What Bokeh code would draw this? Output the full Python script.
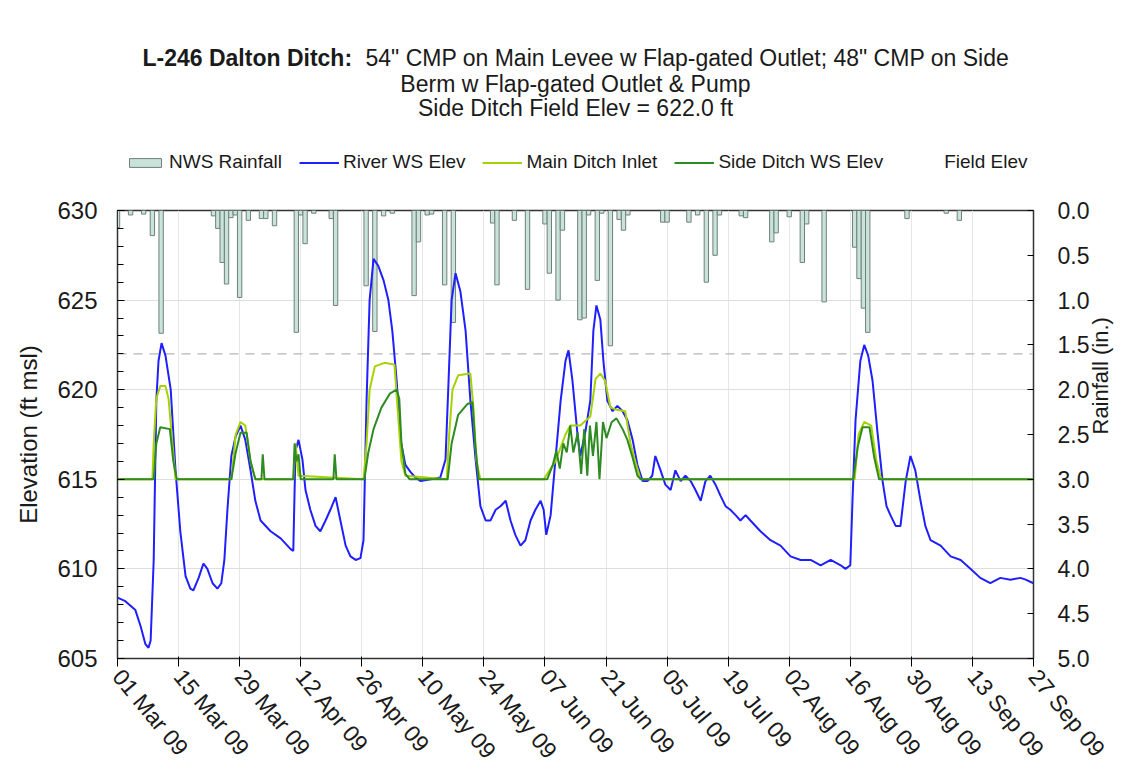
import math
import pandas as pd
from bokeh.plotting import figure
from bokeh.layouts import column
from bokeh.models import (Range1d, LinearAxis, FixedTicker, SingleIntervalTicker,
                          PrintfTickFormatter, Legend, LegendItem, Label)
from bokeh.embed import file_html
from bokeh.resources import INLINE

START = pd.Timestamp("2009-03-01")
END = pd.Timestamp("2009-09-27")

title_bold = "L-246 Dalton Ditch:"
title_rest = "54\" CMP on Main Levee w Flap-gated Outlet; 48\" CMP on Side"
title_line2 = "Berm w Flap-gated Outlet & Pump"
title_line3 = "Side Ditch Field Elev = 622.0 ft"

series_names = ["NWS Rainfall", "River WS Elev", "Main Ditch Inlet",
                "Side Ditch WS Elev", "Field Elev"]

tick_dates = ["2009-03-01", "2009-03-15", "2009-03-29", "2009-04-12", "2009-04-26",
              "2009-05-10", "2009-05-24", "2009-06-07", "2009-06-21", "2009-07-05",
              "2009-07-19", "2009-08-02", "2009-08-16", "2009-08-30", "2009-09-13",
              "2009-09-27"]
tick_labels = ["01 Mar 09", "15 Mar 09", "29 Mar 09", "12 Apr 09", "26 Apr 09",
               "10 May 09", "24 May 09", "07 Jun 09", "21 Jun 09", "05 Jul 09",
               "19 Jul 09", "02 Aug 09", "16 Aug 09", "30 Aug 09", "13 Sep 09",
               "27 Sep 09"]

# Rainfall (days after 01 Mar 09, inches)
rain_days = [0, 3, 6, 8, 10, 22, 23, 24, 25, 26, 27, 28, 30, 33, 34, 36, 41, 42, 43, 45,
             49, 50, 57, 59, 61, 63, 68, 69, 71, 72, 75, 77, 86, 87, 91, 94, 98, 99, 101,
             102, 106, 107, 108, 110, 111, 113, 115, 116, 117, 125, 126, 131, 133, 135,
             137, 138, 143, 144, 150, 151, 154, 157, 158, 162, 169, 170, 171, 172, 181,
             190, 193]
rain_in = [0.19, 0.05, 0.04, 0.28, 1.37, 0.06, 0.20, 0.58, 0.82, 0.08, 0.05, 0.97, 0.11,
           0.09, 0.09, 0.17, 1.36, 0.05, 0.37, 0.03, 0.09, 1.06, 0.84, 1.35, 0.06, 0.03,
           0.95, 0.35, 0.05, 0.04, 0.83, 1.25, 0.14, 0.83, 0.11, 0.88, 0.15, 0.70, 1.00,
           0.22, 1.22, 1.20, 0.05, 0.78, 0.03, 1.51, 0.10, 0.22, 0.05, 0.13, 0.13, 0.13,
           0.05, 0.80, 0.50, 0.05, 0.06, 0.08, 0.35, 0.25, 0.07, 0.58, 0.15, 1.02, 0.41,
           0.76, 1.09, 1.36, 0.09, 0.03, 0.11]

river_days = [0.0, 1.8, 4.1, 5.3, 6.4, 7.1, 7.6, 8.3, 8.9, 9.4, 10.1, 11.0, 12.2, 13.3,
              14.4, 15.6, 16.7, 17.4, 18.6, 19.7, 20.6, 21.8, 22.9, 23.8, 24.5, 25.2,
              26.1, 27.1, 28.2, 29.3, 30.5, 31.6, 32.8, 35.1, 37.4, 39.7, 40.3, 40.8,
              41.5, 42.4, 43.1, 44.2, 45.4, 46.5, 47.7, 48.8, 50.0, 51.1, 52.3, 53.4,
              54.6, 55.7, 56.4, 57.1, 57.8, 58.7, 59.8, 61.0, 62.1, 63.0, 64.0, 64.9,
              66.0, 67.2, 68.3, 69.5, 71.8, 74.0, 75.2, 75.9, 76.6, 77.5, 78.6, 79.8,
              80.9, 82.1, 83.2, 84.4, 85.5, 86.7, 87.8, 89.0, 90.1, 91.2, 92.4, 93.5,
              94.7, 95.8, 97.0, 97.7, 98.3, 99.3, 100.4, 101.6, 102.7, 103.4, 104.3,
              105.5, 106.1, 107.3, 108.4, 109.1, 109.8, 110.7, 111.4, 112.3, 113.5,
              114.6, 115.8, 116.9, 118.1, 119.2, 120.4, 121.5, 122.6, 123.3, 124.5,
              125.6, 126.8, 127.9, 129.1, 130.2, 131.4, 132.5, 133.7, 134.8, 135.9,
              137.1, 138.2, 139.4, 140.5, 141.7, 142.8, 144.0, 145.1, 147.4, 149.7,
              152.0, 154.3, 156.6, 158.9, 161.2, 163.5, 165.8, 166.9, 168.0, 168.5,
              169.2, 170.3, 171.2, 172.1, 173.1, 174.2, 175.4, 176.3, 177.2, 178.4,
              179.5, 180.7, 181.8, 182.9, 184.1, 185.2, 186.4, 188.7, 191.0, 193.3,
              195.6, 197.8, 200.1, 202.4, 204.7, 207.0, 208.2, 210.0]
river_elev = [608.4, 608.2, 607.7, 606.8, 605.8, 605.6, 606.0, 610.5, 619.4, 621.6, 622.6,
              621.9, 620.0, 615.5, 612.1, 609.6, 608.9, 608.8, 609.5, 610.3, 610.0, 609.2,
              608.9, 609.2, 610.5, 613.3, 616.3, 617.4, 618.0, 617.2, 615.5, 613.8, 612.7,
              612.1, 611.7, 611.1, 611.0, 616.6, 617.2, 616.1, 614.4, 613.3, 612.4, 612.1,
              612.7, 613.3, 614.0, 612.7, 611.3, 610.7, 610.5, 610.6, 611.6, 619.4, 625.0,
              627.3, 626.9, 626.1, 625.0, 623.3, 620.5, 617.2, 615.8, 615.4, 615.1, 614.9,
              615.0, 615.1, 616.1, 620.5, 625.0, 626.5, 625.5, 623.3, 619.4, 616.1, 613.5,
              612.7, 612.7, 613.3, 613.5, 613.8, 612.7, 611.9, 611.3, 611.6, 612.7, 613.3,
              613.8, 613.3, 611.9, 613.0, 616.1, 619.4, 621.6, 622.2, 620.5, 617.4, 616.3,
              617.7, 619.4, 623.3, 624.7, 623.9, 621.6, 619.4, 618.8, 619.1, 618.8, 618.3,
              617.2, 615.8, 614.9, 614.9, 615.2, 616.3, 615.5, 614.7, 614.4, 615.5, 614.9,
              615.2, 614.9, 614.4, 613.8, 614.9, 615.2, 614.7, 614.1, 613.5, 613.3, 613.0,
              612.7, 613.0, 612.7, 612.1, 611.6, 611.3, 610.7, 610.5, 610.5, 610.2, 610.5,
              610.2, 610.0, 610.2, 613.8, 618.3, 621.6, 622.5, 621.9, 620.5, 617.7, 614.9,
              613.5, 613.0, 612.4, 612.4, 614.9, 616.3, 615.5, 613.8, 612.4, 611.6, 611.3,
              610.7, 610.5, 610.0, 609.5, 609.2, 609.5, 609.4, 609.5, 609.4, 609.2]

main_days = [0.0, 8.0, 8.3, 8.9, 9.8, 11.0, 11.7, 12.6, 13.3, 26.1, 27.1, 28.2, 29.3,
             30.5, 31.6, 40.3, 40.8, 41.5, 56.4, 57.1, 57.8, 59.0, 61.2, 63.5, 64.2,
             65.1, 66.0, 75.5, 75.9, 76.8, 78.1, 80.9, 81.6, 82.3, 83.2, 97.7, 100.4,
             102.7, 103.8, 106.1, 108.4, 109.6, 110.7, 111.8, 113.0, 114.2, 116.4, 117.6,
             118.7, 119.9, 169.0, 169.9, 171.2, 172.8, 174.0, 175.1, 210.0]
main_elev = [615.0, 615.0, 617.0, 619.5, 620.2, 620.2, 619.5, 617.0, 615.0, 615.0, 617.5,
             618.2, 618.0, 616.0, 615.0, 615.0, 617.0, 615.2, 615.0, 617.0, 620.0, 621.3,
             621.5, 621.4, 619.0, 616.0, 615.2, 615.0, 617.0, 620.0, 620.8, 620.9, 619.0,
             616.0, 615.0, 615.0, 616.0, 617.5, 618.0, 618.0, 618.5, 620.6, 620.9, 620.5,
             619.0, 618.9, 618.8, 617.0, 616.0, 615.0, 615.0, 617.5, 618.2, 618.0, 616.0,
             615.0, 615.0]

side_days = [0.0, 8.3, 8.9, 9.8, 12.0, 12.8, 13.6, 26.1, 27.1, 28.2, 29.6, 30.5, 31.6,
             33.0, 33.3, 33.7, 40.3, 40.6, 41.0, 41.5, 42.0, 49.5, 49.8, 50.2, 56.6, 57.5,
             58.7, 60.5, 62.5, 64.0, 64.6, 65.1, 66.0, 67.0, 75.7, 76.6, 78.1, 80.2, 81.4,
             82.0, 82.8, 98.5, 99.8, 100.6, 101.4, 102.2, 103.0, 103.8, 104.5, 105.5,
             106.3, 107.0, 107.7, 108.3, 109.0, 109.8, 110.5, 111.3, 112.1, 113.3, 114.4,
             115.8, 116.9, 118.1, 119.2, 120.0, 168.7, 169.7, 170.8, 172.4, 173.5, 174.6,
             210.0]
side_elev = [615.0, 615.0, 617.0, 617.9, 617.8, 616.0, 615.0, 615.0, 616.5, 617.6, 617.6,
             616.0, 615.0, 615.0, 616.4, 615.0, 615.0, 617.0, 616.0, 616.4, 615.0, 615.0,
             616.4, 615.0, 615.0, 616.5, 617.8, 619.0, 619.8, 620.0, 619.5, 617.0, 615.3,
             615.0, 615.0, 617.0, 618.6, 619.2, 619.3, 617.0, 615.0, 615.0, 615.8, 616.6,
             615.6, 617.0, 616.5, 618.0, 616.5, 617.6, 615.3, 617.8, 615.2, 618.0, 616.3,
             618.2, 615.0, 618.2, 617.3, 618.2, 618.4, 617.8, 617.2, 616.2, 615.2, 615.0,
             615.0, 616.8, 617.9, 617.9, 616.2, 615.0, 615.0]

field_elev = 622.0

FONT = "Liberation Sans"
TXT = "#1a1a1a"
C_BAR_FILL, C_BAR_LINE = "#c9e3da", "#6f807a"
C_RIVER, C_MAIN, C_SIDE, C_FIELD = "#1f1fff", "#a6d200", "#2e8b22", "#b5b5b5"

W, H = 1131, 775
HEAD_H = 180
FRAME_L, FRAME_R = 117, 1033


def to_dt(days):
    return START + pd.to_timedelta(days, unit="D")


# ---------------- header: titles + legend (its frame is aligned with the chart's) ----
head = figure(width=W, height=HEAD_H, x_range=Range1d(FRAME_L, FRAME_R),
              y_range=Range1d(HEAD_H, 0), output_backend="svg", toolbar_location=None,
              title=None, x_axis_location=None, y_axis_location=None, min_border=0,
              min_border_left=FRAME_L, min_border_right=W - FRAME_R)
head.grid.visible = False
head.outline_line_color = None
head.background_fill_color = "white"
head.border_fill_color = "white"
head.extra_y_ranges = {"off": Range1d(2000, 2001)}

tkw = dict(text_font=FONT, text_font_size="23px", text_color=TXT, text_baseline="middle")
head.add_layout(Label(x=142, y=57, text=title_bold, text_align="left",
                      text_font_style="bold", **tkw))
head.add_layout(Label(x=365, y=57, text=title_rest, text_align="left", **tkw))
head.add_layout(Label(x=575, y=83, text=title_line2, text_align="center", **tkw))
head.add_layout(Label(x=575, y=107, text=title_line3, text_align="center", **tkw))

# legend proxies (same data, drawn on an off-screen range of the header)
lg_rain = head.vbar(x=rain_days, top=0, bottom=rain_in, width=0.9, y_range_name="off",
                    fill_color=C_BAR_FILL, line_color=C_BAR_LINE)
lg_river = head.line(x=river_days, y=river_elev, y_range_name="off",
                     line_color=C_RIVER, line_width=2)
lg_main = head.line(x=main_days, y=main_elev, y_range_name="off",
                    line_color=C_MAIN, line_width=2)
lg_side = head.line(x=side_days, y=side_elev, y_range_name="off",
                    line_color=C_SIDE, line_width=2)
lg_field = head.line(x=[0, 210], y=[field_elev, field_elev], y_range_name="off",
                     line_alpha=0)
legend = Legend(items=[LegendItem(label=n, renderers=[r]) for n, r in
                       zip(series_names, [lg_rain, lg_river, lg_main, lg_side, lg_field])],
                orientation="horizontal", location=(4, 3), padding=4, margin=0,
                spacing=17, glyph_width=40, glyph_height=11, label_standoff=4,
                border_line_alpha=0, background_fill_alpha=0,
                label_text_font=FONT, label_text_font_size="19px",
                label_text_color=TXT)
head.add_layout(legend, "center")

# ---------------- main chart ----------------
p = figure(width=W, height=H - HEAD_H, x_axis_type="datetime",
           x_range=Range1d(START, END), y_range=Range1d(605, 630),
           output_backend="svg", toolbar_location=None, title=None,
           min_border_left=FRAME_L, min_border_right=W - FRAME_R, min_border_top=30,
           min_border_bottom=117)
p.extra_y_ranges = {"rain": Range1d(5, 0)}
p.background_fill_color = "white"
p.border_fill_color = "white"
p.outline_line_color = "#333333"
p.outline_line_width = 1.5

tick_ms = [pd.Timestamp(d).value / 1e6 for d in tick_dates]
p.xaxis.ticker = FixedTicker(ticks=tick_ms)
p.xgrid.ticker = FixedTicker(ticks=tick_ms)
p.xgrid.grid_line_color = "#e6e6e6"
p.ygrid.grid_line_color = "#dedede"
p.xaxis.major_label_overrides = {t: l for t, l in zip(tick_ms, tick_labels)}
p.xaxis.major_label_orientation = -0.88
p.xaxis.major_label_text_font = FONT
p.xaxis.major_label_text_font_size = "23px"
p.xaxis.major_label_text_color = TXT
p.xaxis.major_tick_out = 8
p.xaxis.major_tick_in = 2
p.xaxis.minor_tick_line_color = None
p.xaxis.axis_line_color = "#333333"
p.xaxis.major_label_standoff = 6

p.yaxis.ticker = SingleIntervalTicker(interval=5, num_minor_ticks=5)
p.ygrid.ticker = SingleIntervalTicker(interval=5)
p.yaxis.axis_label = "Elevation (ft msl)"
p.yaxis.axis_label_text_font = FONT
p.yaxis.axis_label_text_font_style = "normal"
p.yaxis.axis_label_text_font_size = "24px"
p.yaxis.axis_label_text_color = TXT
p.yaxis.axis_label_standoff = 12
p.yaxis.major_label_text_font = FONT
p.yaxis.major_label_text_font_size = "24px"
p.yaxis.major_label_text_color = TXT
p.yaxis.major_tick_in = 7
p.yaxis.major_tick_out = 0
p.yaxis.minor_tick_in = 6
p.yaxis.minor_tick_out = 0
p.yaxis.major_label_standoff = 20
p.yaxis.axis_line_color = "#333333"

rax = LinearAxis(y_range_name="rain", axis_label="Rainfall (in.)",
                 ticker=FixedTicker(ticks=[i * 0.5 for i in range(11)]),
                 formatter=PrintfTickFormatter(format="%.1f"))
rax.axis_label_text_font = FONT
rax.axis_label_text_font_style = "normal"
rax.axis_label_text_font_size = "22px"
rax.axis_label_text_color = TXT
rax.axis_label_standoff = 8
rax.major_label_text_font = FONT
rax.major_label_text_font_size = "23px"
rax.major_label_text_color = TXT
rax.major_tick_in = 6
rax.major_tick_out = 0
rax.minor_tick_line_color = None
rax.major_label_standoff = 24
rax.axis_line_color = "#333333"
rax.axis_label_orientation = math.pi / 2
p.add_layout(rax, "right")

# rainfall bars hanging from the top
p.vbar(x=to_dt(rain_days), top=0, bottom=rain_in, width=1.0 * 86400000,
       y_range_name="rain", fill_color=C_BAR_FILL, line_color=C_BAR_LINE, line_width=1)

dt_range = to_dt([0, 210])
p.line(x=dt_range, y=[field_elev, field_elev], line_color=C_FIELD,
       line_dash="9 7", line_width=1.2)
p.line(x=to_dt(river_days), y=river_elev, line_color=C_RIVER, line_width=2)
p.line(x=to_dt(main_days), y=main_elev, line_color=C_MAIN, line_width=2)
p.line(x=to_dt(side_days), y=side_elev, line_color=C_SIDE, line_width=2)

layout = column(head, p, spacing=0)
open("out.html", "w").write(file_html(layout, INLINE))
